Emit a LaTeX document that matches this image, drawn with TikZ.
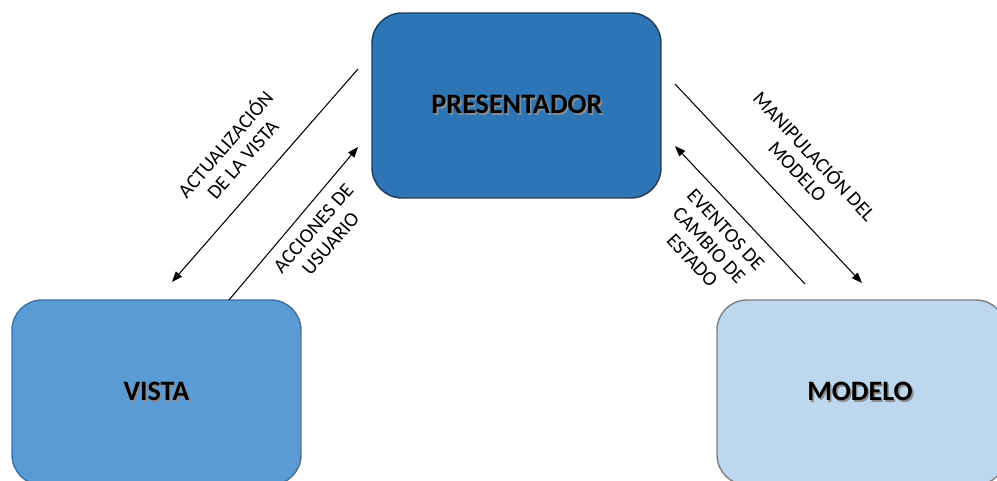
\documentclass[tikz,border=0pt]{standalone}
\usepackage{fontspec}
\setmainfont{Carlito}
\usetikzlibrary{arrows.meta}
\definecolor{presfill}{HTML}{2E75B6}
\definecolor{presdraw}{HTML}{1F3A55}
\definecolor{vistafill}{HTML}{5B9BD5}
\definecolor{vistadraw}{HTML}{41719C}
\definecolor{modfill}{HTML}{BDD7EE}
\definecolor{moddraw}{HTML}{7F7F7F}
% bold title with a soft drop shadow
\newcommand\shadowed[1]{\makebox[0pt][l]{\hspace{0.9pt}\raisebox{-0.9pt}{\textcolor{black!45}{#1}}}#1}
\begin{document}
\begin{tikzpicture}[x=0.02cm,y=-0.02cm,
  box/.style={rectangle, rounded corners=0.6cm, minimum width=5.78cm,
    minimum height=3.7cm, line width=0.8pt, inner sep=0pt,
    font=\fontsize{16}{19}\selectfont\bfseries},
  title/.style={font=\fontsize{16}{19}\selectfont\bfseries, inner sep=0pt},
  flow/.style={line width=0.6pt, -{Triangle[length=6pt,width=4.5pt]}},
  lbl/.style={align=center, inner sep=0pt,
    font=\fontsize{11.5}{13}\selectfont}]
  \clip (0,0) rectangle (997,480);
  \fill[white] (0,0) rectangle (997,480);

  % the three components
  \node[box, fill=presfill, draw=presdraw] (pres) at (516.5,105.5) {};
  \node[title] (prestxt) at (517,105.5) {\shadowed{PRESENTADOR}};
  \node[box, fill=vistafill, draw=vistadraw] (vista) at (156.5,392.5) {};
  \node[title] (vistatxt) at (156.5,392.5) {\shadowed{VISTA}};
  \node[box, fill=modfill, draw=moddraw] (modelo) at (861.5,392.5) {};
  \node[title] (modtxt) at (860,392.5) {\shadowed{MODELO}};

  % connector end points
  \coordinate (a1) at (358,69);
  \coordinate (a2) at (172,282);
  \coordinate (b1) at (229,300);
  \coordinate (b2) at (358,147);
  \coordinate (c1) at (675,84);
  \coordinate (c2) at (862,283);
  \coordinate (d1) at (805,284);
  \coordinate (d2) at (675,146);

  % presenter <-> view
  \draw[flow] (a1) -- (a2);
  \draw[flow] (b1) -- (b2);
  % presenter <-> model
  \draw[flow] (c1) -- (c2);
  \draw[flow] (d1) -- (d2);

  % connector labels
  \node[lbl, rotate=49] (l1) at (233,151) {ACTUALIZACIÓN\\DE LA VISTA};
  \node[lbl, rotate=49] (l2) at (322,236) {ACCIONES DE\\USUARIO};
  \node[lbl, rotate=-47] (l3) at (807,163) {MANIPULACIÓN DEL\\MODELO};
  \node[lbl, rotate=-47] (l4) at (709,245) {EVENTOS DE\\CAMBIO DE\\ESTADO};
\end{tikzpicture}
\end{document}
